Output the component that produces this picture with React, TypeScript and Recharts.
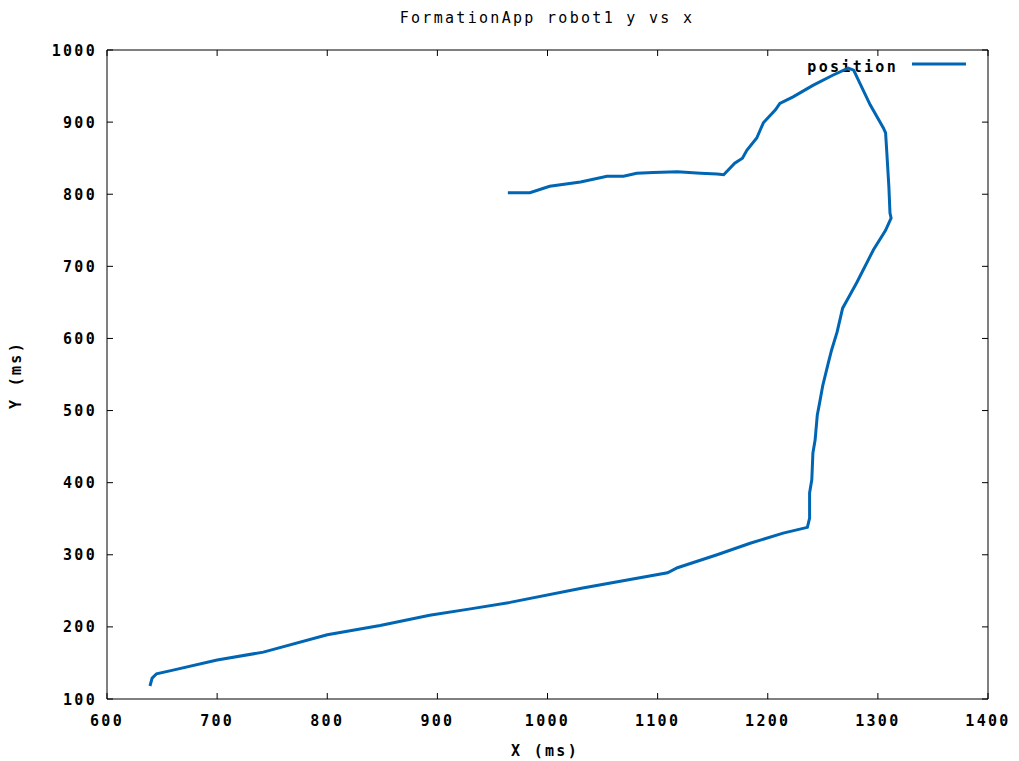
import React from 'react';
import { LineChart, Line, XAxis, YAxis } from 'recharts';

// robot1 track (x, y in ms)
const xs = [
  639, 641, 645, 660, 700, 742, 800, 848, 893, 930, 966, 1032, 1109, 1118, 1154, 1184, 1214, 1236, 1238,
  1238, 1240, 1241, 1243, 1245, 1247, 1250, 1255, 1258, 1263, 1268, 1272, 1281, 1296, 1307, 1312, 1311,
  1310, 1308, 1307, 1305, 1293, 1278, 1273, 1259, 1241, 1223, 1211, 1207, 1196, 1190, 1181, 1177, 1170,
  1160, 1154, 1139, 1118, 1096, 1081, 1069, 1054, 1030, 1002, 984, 964,
];
const ys = [
  118, 129, 135, 140, 154, 165, 189, 202, 216, 225, 234, 254, 275, 282, 300, 316, 330, 338, 351,
  386, 404, 441, 459, 494, 510, 535, 566, 584, 609, 642, 653, 678, 723, 750, 767, 774,
  810, 861, 885, 892, 924, 972, 975, 965, 951, 935, 926, 917, 899, 878, 861, 850, 843,
  827, 828, 829, 831, 830, 829, 825, 825, 817, 811, 802, 802,
];
const xTicks = [600, 700, 800, 900, 1000, 1100, 1200, 1300, 1400];
const yTicks = [100, 200, 300, 400, 500, 600, 700, 800, 900, 1000];

const data = xs.map((x, i) => ({ x, y: ys[i] }));

const FONT = '"DejaVu Sans Mono", monospace';
const LINE_COLOR = '#0066b3';

const BottomTick = (props: any) => {
  const { x, y, payload } = props;
  return (
    <g>
      <line x1={x} y1={y} x2={x} y2={y - 6} stroke="#000" />
      <text x={x} y={y + 22} textAnchor="middle" dominantBaseline="middle"
        fontFamily={FONT} fontWeight="bold" fontSize={15} letterSpacing={2.3} fill="#000">
        {payload.value}
      </text>
    </g>
  );
};

const LeftTick = (props: any) => {
  const { x, y, payload } = props;
  return (
    <g>
      <line x1={x} y1={y} x2={x + 6} y2={y} stroke="#000" />
      <text x={x - 10} y={y + 1} textAnchor="end" dominantBaseline="middle"
        fontFamily={FONT} fontWeight="bold" fontSize={15} letterSpacing={2.3} fill="#000">
        {payload.value}
      </text>
    </g>
  );
};

const TopTick = (props: any) => {
  const { x, y } = props;
  return <line x1={x} y1={y} x2={x} y2={y + 6} stroke="#000" />;
};

const RightTick = (props: any) => {
  const { x, y } = props;
  return <line x1={x} y1={y} x2={x - 6} y2={y} stroke="#000" />;
};

const textStyle = { fontFamily: FONT, fontSize: 15, letterSpacing: 2.3, fill: '#000' };

export default function App() {
  return (
    <div style={{ position: 'absolute', left: 0, top: 0, background: '#fff' }}>
      <LineChart width={1019} height={761} data={data} margin={{ top: 49, right: 30, bottom: 22, left: 47 }}>
        <text x={547} y={18} textAnchor="middle" dominantBaseline="middle" {...textStyle}>
          FormationApp robot1 y vs x
        </text>
        <text x={545} y={751} textAnchor="middle" dominantBaseline="middle" fontWeight="bold" {...textStyle}>
          X (ms)
        </text>
        <text x={16} y={375} textAnchor="middle" dominantBaseline="middle" transform="rotate(-90 16 375)"
          fontWeight="bold" {...textStyle}>
          Y (ms)
        </text>
        <text x={898} y={67} textAnchor="end" dominantBaseline="middle" fontWeight="bold" {...textStyle}>
          position
        </text>
        <line x1={912} y1={64} x2={966} y2={64} stroke={LINE_COLOR} strokeWidth={3} />
        <XAxis dataKey="x" type="number" domain={[600, 1400]} ticks={xTicks} interval={0}
          height={40} tickSize={0} tickMargin={0} tickLine={false}
          axisLine={{ stroke: '#000' }} tick={<BottomTick />} allowDataOverflow />
        <XAxis xAxisId="top" orientation="top" dataKey="x" type="number" domain={[600, 1400]} ticks={xTicks}
          interval={0} height={1} tickSize={0} tickMargin={0} tickLine={false}
          axisLine={{ stroke: '#000' }} tick={<TopTick />} allowDataOverflow />
        <YAxis type="number" domain={[100, 1000]} ticks={yTicks} interval={0}
          width={60} tickSize={0} tickMargin={0} tickLine={false}
          axisLine={{ stroke: '#000' }} tick={<LeftTick />} allowDataOverflow />
        <YAxis yAxisId="right" orientation="right" type="number" domain={[100, 1000]} ticks={yTicks}
          interval={0} width={1} tickSize={0} tickMargin={0} tickLine={false}
          axisLine={{ stroke: '#000' }} tick={<RightTick />} allowDataOverflow />
        <Line type="linear" dataKey="y" stroke={LINE_COLOR} strokeWidth={3} dot={false}
          isAnimationActive={false} name="position" />
      </LineChart>
    </div>
  );
}
